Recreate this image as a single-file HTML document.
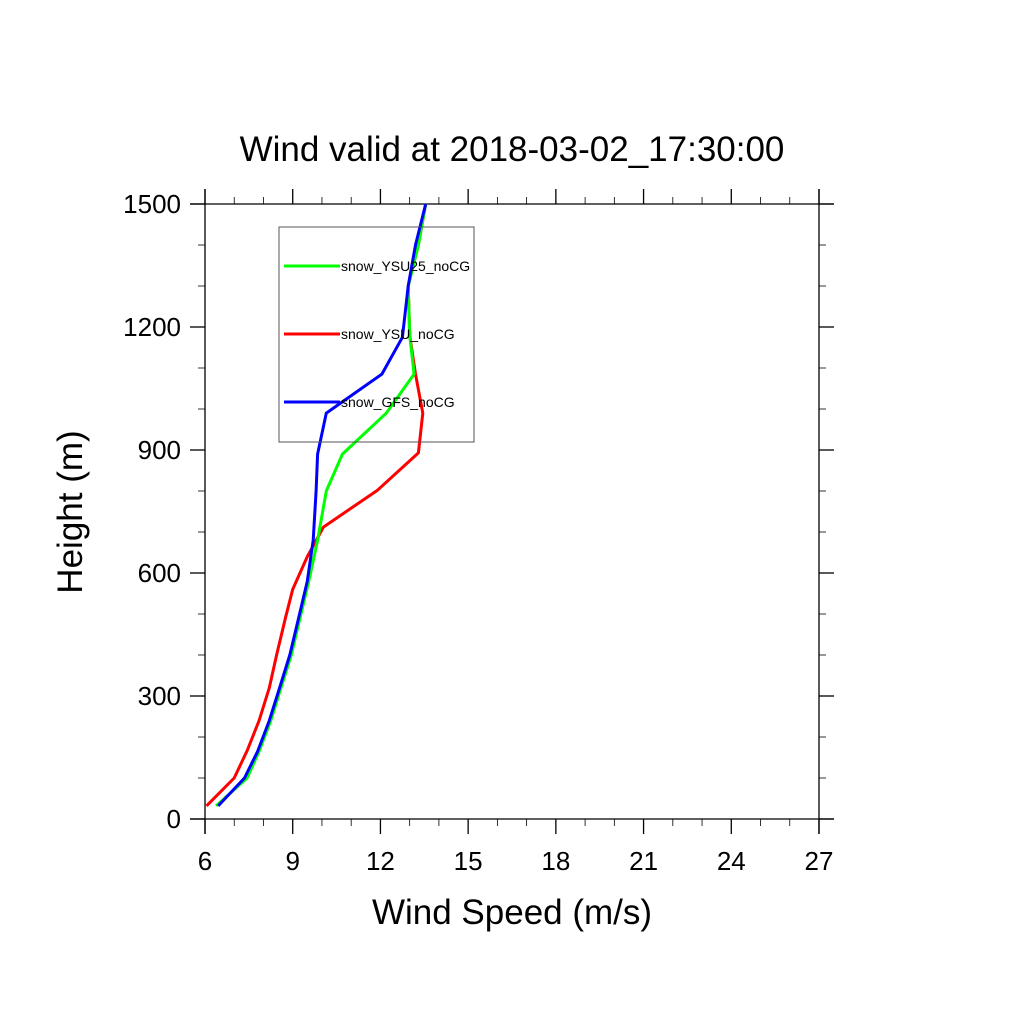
<!DOCTYPE html>
<html><head><meta charset="utf-8"><style>
html,body{margin:0;padding:0;background:#fff;}
svg{display:block;font-family:"Liberation Sans",Arial,sans-serif;}
</style></head><body>
<svg id="chart" width="1024" height="1024" viewBox="0 0 1024 1024">
<g id="axes"></g>
<g id="series"></g>
<g id="legend"></g>
</svg>
<script>
const xTicks = [6, 9, 12, 15, 18, 21, 24, 27];
const yTicks = [0, 300, 600, 900, 1200, 1500];
const heightsGreen = [32, 100, 165, 240, 320, 400, 490, 580, 680, 800, 890, 990, 1085, 1180, 1300, 1400, 1500];
const ysu25 = [6.38, 7.44, 7.85, 8.25, 8.6, 8.95, 9.25, 9.55, 9.85, 10.15, 10.7, 12.2, 13.15, 13.0, 12.95, 13.3, 13.55];
const heightsBlue = [32, 100, 165, 240, 320, 400, 490, 580, 680, 800, 890, 990, 1085, 1175, 1300, 1400, 1500];
const gfs = [6.45, 7.35, 7.8, 8.2, 8.55, 8.9, 9.2, 9.5, 9.7, 9.8, 9.85, 10.15, 12.05, 12.75, 12.95, 13.2, 13.55];
const heightsRed = [32, 100, 168, 240, 320, 400, 490, 560, 640, 712, 802, 893, 990, 1085, 1180, 1300, 1400, 1500];
const ysu = [6.05, 7.0, 7.45, 7.85, 8.2, 8.45, 8.75, 9.0, 9.5, 10.05, 11.9, 13.3, 13.45, 13.2, 13.0, 12.95, 13.3, 13.55];

const NS="http://www.w3.org/2000/svg";
const L=205,R=819,T=204,B=819;
const xMin=6,xMax=27,yMin=0,yMax=1500;
const sx=v=>L+(v-xMin)/(xMax-xMin)*(R-L);
const sy=v=>B-(v-yMin)/(yMax-yMin)*(B-T);
function mk(tag,attrs,parent){const e=document.createElementNS(NS,tag);for(const k in attrs)e.setAttribute(k,attrs[k]);parent.appendChild(e);return e;}
const axes=document.getElementById('axes');
let e;
e=mk('line',{x1:190,y1:T,x2:834,y2:T,stroke:'#000','stroke-width':1.3},axes);

e=mk('line',{x1:190,y1:B,x2:834,y2:B,stroke:'#000','stroke-width':1.3},axes);

e=mk('line',{x1:L,y1:189,x2:L,y2:834,stroke:'#000','stroke-width':1.3},axes);

e=mk('line',{x1:R,y1:189,x2:R,y2:834,stroke:'#000','stroke-width':1.3},axes);

for(let v=xMin;v<=xMax;v+=1){
  const major=xTicks.includes(v);const len=major?15:7;const x=sx(v);
  mk('line',{x1:x,y1:B,x2:x,y2:B+len,stroke:'#000','stroke-width':major?1.3:0.8},axes);
  mk('line',{x1:x,y1:T,x2:x,y2:T-len,stroke:'#000','stroke-width':major?1.3:0.8},axes);
}
xTicks.forEach(v=>{const t=mk('text',{x:sx(v),y:870,'text-anchor':'middle','font-size':26},axes);t.textContent=v;
});
for(let v=yMin;v<=yMax;v+=100){
  const major=yTicks.includes(v);const len=major?15:7;const y=sy(v);
  mk('line',{x1:L,y1:y,x2:L-len,y2:y,stroke:'#000','stroke-width':major?1.3:0.8},axes);
  mk('line',{x1:R,y1:y,x2:R+len,y2:y,stroke:'#000','stroke-width':major?1.3:0.8},axes);
}
yTicks.forEach(v=>{const t=mk('text',{x:181,y:sy(v)+9,'text-anchor':'end','font-size':26},axes);t.textContent=v;
});
let t=mk('text',{x:512,y:161,'text-anchor':'middle','font-size':35},axes);t.textContent='Wind valid at 2018-03-02_17:30:00';

t=mk('text',{x:512,y:924,'text-anchor':'middle','font-size':35},axes);t.textContent='Wind Speed (m/s)';

t=mk('text',{x:82,y:512,'text-anchor':'middle','font-size':35,transform:'rotate(-90 82 512)'},axes);t.textContent='Height (m)';


const series=document.getElementById('series');
function line(xs,hs,color,name){
  const pts=xs.map((v,i)=>sx(v).toFixed(1)+','+sy(hs[i]).toFixed(1)).join(' ');
  const p=mk('polyline',{points:pts,fill:'none',stroke:color,'stroke-width':3,'stroke-linejoin':'round'},series);
  
}
line(ysu,heightsRed,'#ff0000','series-snow-ysu-nocg');
line(ysu25,heightsGreen,'#00ff00','series-snow-ysu25-nocg');
line(gfs,heightsBlue,'#0000ff','series-snow-gfs-nocg');

const legend=document.getElementById('legend');
e=mk('rect',{x:279,y:227,width:195,height:215,fill:'none',stroke:'#555','stroke-width':1},legend);

[['snow_YSU25_noCG','#00ff00',266],['snow_YSU_noCG','#ff0000',334],['snow_GFS_noCG','#0000ff',402]].forEach(([lab,c,y])=>{
  const g=mk('g',{},legend);
  
  mk('line',{x1:284,y1:y,x2:340,y2:y,stroke:c,'stroke-width':3},g);
  const tx=mk('text',{x:341,y:y+5,'font-size':14},g);tx.textContent=lab;
});
</script>
</body></html>
